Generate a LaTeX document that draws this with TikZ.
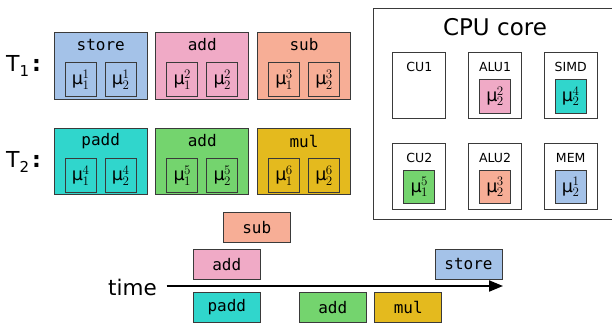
\RequirePackage{fix-cm}
\documentclass[tikz,border=0pt]{standalone}
\usepackage{fontspec}
\setmainfont{DejaVu Sans}
\setmonofont{DejaVu Sans Mono}
\usetikzlibrary{arrows.meta}
\definecolor{edge}{HTML}{3A3A3A}
\definecolor{cblue}{RGB}{164,194,232}
\definecolor{cpink}{RGB}{240,170,198}
\definecolor{csalmon}{RGB}{247,174,150}
\definecolor{cteal}{RGB}{48,214,204}
\definecolor{cgreen}{RGB}{116,212,110}
\definecolor{cgold}{RGB}{228,186,30}
\newcommand{\scdig}[1]{\hbox{\fontsize{13}{13}\selectfont$#1$}}
\newcommand{\mmu}[2]{\fontsize{17.5}{19}\selectfont μ\hspace{-0.5pt}${}^{\scdig{#1}}_{\scdig{#2}}$}
\tikzset{
  task/.style={draw=edge, line width=1pt, minimum width=93.3pt, minimum height=66.7pt, inner sep=0pt},
  tasklabel/.style={font=\ttfamily\fontsize{16}{18}\selectfont, inner sep=0pt},
  mubox/.style={draw=edge, line width=1pt, minimum width=31.3pt, minimum height=33.7pt, inner sep=0pt},
  unitbox/.style={draw=edge, line width=1pt, fill=white, minimum width=53.3pt, minimum height=66.3pt, inner sep=0pt},
  unitlabel/.style={font=\fontsize{12.5}{14}\selectfont, inner sep=0pt},
  opbox/.style={draw=edge, line width=1pt, minimum width=67pt, minimum height=30.3pt, inner sep=0pt, font=\ttfamily\fontsize{16}{18}\selectfont},
  tlabel/.style={font=\fontsize{22}{24}\selectfont, inner sep=0pt, anchor=west},
}
\begin{document}
\begin{tikzpicture}[x=1pt, y=-1pt]
\path[use as bounding box] (0,0) rectangle (612,322);
\clip (0,0) rectangle (612,322);
% thread labels
\node[tlabel] (T1) at (6,66) {T\raisebox{-0.4ex}{\fontsize{15}{16}\selectfont 1}\hspace{3pt}\textbf{:}};
\node[tlabel] (T2) at (6,162) {T\raisebox{-0.4ex}{\fontsize{15}{16}\selectfont 2}\hspace{3pt}\textbf{:}};
% thread 1
\node[task, fill=cblue] (s1) at (100.7,65.7) {};
\node[tasklabel] (s1l) at (100.7,45) {store};
\node[mubox, fill=cblue] (s1a) at (80.7,79.5) {\mmu{1}{1}};
\node[mubox, fill=cblue] (s1b) at (120.7,79.5) {\mmu{1}{2}};
\node[task, fill=cpink] (a1) at (202.3,65.7) {};
\node[tasklabel] (a1l) at (202.3,45) {add};
\node[mubox, fill=cpink] (a1a) at (182.3,79.5) {\mmu{2}{1}};
\node[mubox, fill=cpink] (a1b) at (222.3,79.5) {\mmu{2}{2}};
\node[task, fill=csalmon] (b1) at (304,65.7) {};
\node[tasklabel] (b1l) at (304,45) {sub};
\node[mubox, fill=csalmon] (b1a) at (284,79.5) {\mmu{3}{1}};
\node[mubox, fill=csalmon] (b1b) at (324,79.5) {\mmu{3}{2}};
% thread 2
\node[task, fill=cteal] (p2) at (100.7,161.5) {};
\node[tasklabel] (p2l) at (100.7,141) {padd};
\node[mubox, fill=cteal] (p2a) at (80.7,175.5) {\mmu{4}{1}};
\node[mubox, fill=cteal] (p2b) at (120.7,175.5) {\mmu{4}{2}};
\node[task, fill=cgreen] (a2) at (202.3,161.5) {};
\node[tasklabel] (a2l) at (202.3,141) {add};
\node[mubox, fill=cgreen] (a2a) at (182.3,175.5) {\mmu{5}{1}};
\node[mubox, fill=cgreen] (a2b) at (222.3,175.5) {\mmu{5}{2}};
\node[task, fill=cgold] (m2) at (304,161.5) {};
\node[tasklabel] (m2l) at (304,141) {mul};
\node[mubox, fill=cgold] (m2a) at (284,175.5) {\mmu{6}{1}};
\node[mubox, fill=cgold] (m2b) at (324,175.5) {\mmu{6}{2}};
% CPU core
\node[draw=edge, line width=1pt, minimum width=250pt, minimum height=211pt, inner sep=0pt, anchor=north west] (core) at (373.3,8) {};
\node[font=\fontsize{23}{26}\selectfont, inner sep=0pt] (corel) at (495,27) {CPU core};
\node[unitbox] (cu1) at (419.3,85.8) {};
\node[unitlabel] (cu1l) at (419.3,66.7) {CU1};
\node[unitbox] (alu1) at (495,85.8) {};
\node[unitlabel] (alu1l) at (495,66.7) {ALU1};
\node[mubox, fill=cpink] (alu1m) at (495,96.2) {\mmu{2}{2}};
\node[unitbox] (simd) at (570.7,85.8) {};
\node[unitlabel] (simdl) at (570.7,66.7) {SIMD};
\node[mubox, fill=cteal] (simdm) at (570.7,96.2) {\mmu{4}{2}};
\node[unitbox] (cu2) at (419.3,176.7) {};
\node[unitlabel] (cu2l) at (419.3,157.6) {CU2};
\node[mubox, fill=cgreen] (cu2m) at (419.3,187.1) {\mmu{5}{1}};
\node[unitbox] (alu2) at (495,176.7) {};
\node[unitlabel] (alu2l) at (495,157.6) {ALU2};
\node[mubox, fill=csalmon] (alu2m) at (495,187.1) {\mmu{3}{2}};
\node[unitbox] (mem) at (570.7,176.7) {};
\node[unitlabel] (meml) at (570.7,157.6) {MEM};
\node[mubox, fill=cblue] (memm) at (570.7,187.1) {\mmu{1}{2}};
% timeline
\node[font=\fontsize{21.5}{24}\selectfont, inner sep=0pt, anchor=east] (time) at (157,287) {time};
\coordinate (tstart) at (166.7,286);
\coordinate (tend) at (503,286);
\draw[line width=2pt, -{Triangle[length=14pt,width=11pt]}] (tstart) -- (tend);
\node[opbox, fill=csalmon] (o1) at (256.8,227.8) {sub};
\node[opbox, fill=cpink] (o2) at (226.8,264.2) {add};
\node[opbox, fill=cblue] (o3) at (468.5,264.2) {store};
\node[opbox, fill=cteal] (o4) at (226.8,307.5) {padd};
\node[opbox, fill=cgreen] (o5) at (332.7,307.5) {add};
\node[opbox, fill=cgold] (o6) at (408.3,307.5) {mul};
\end{tikzpicture}
\end{document}
